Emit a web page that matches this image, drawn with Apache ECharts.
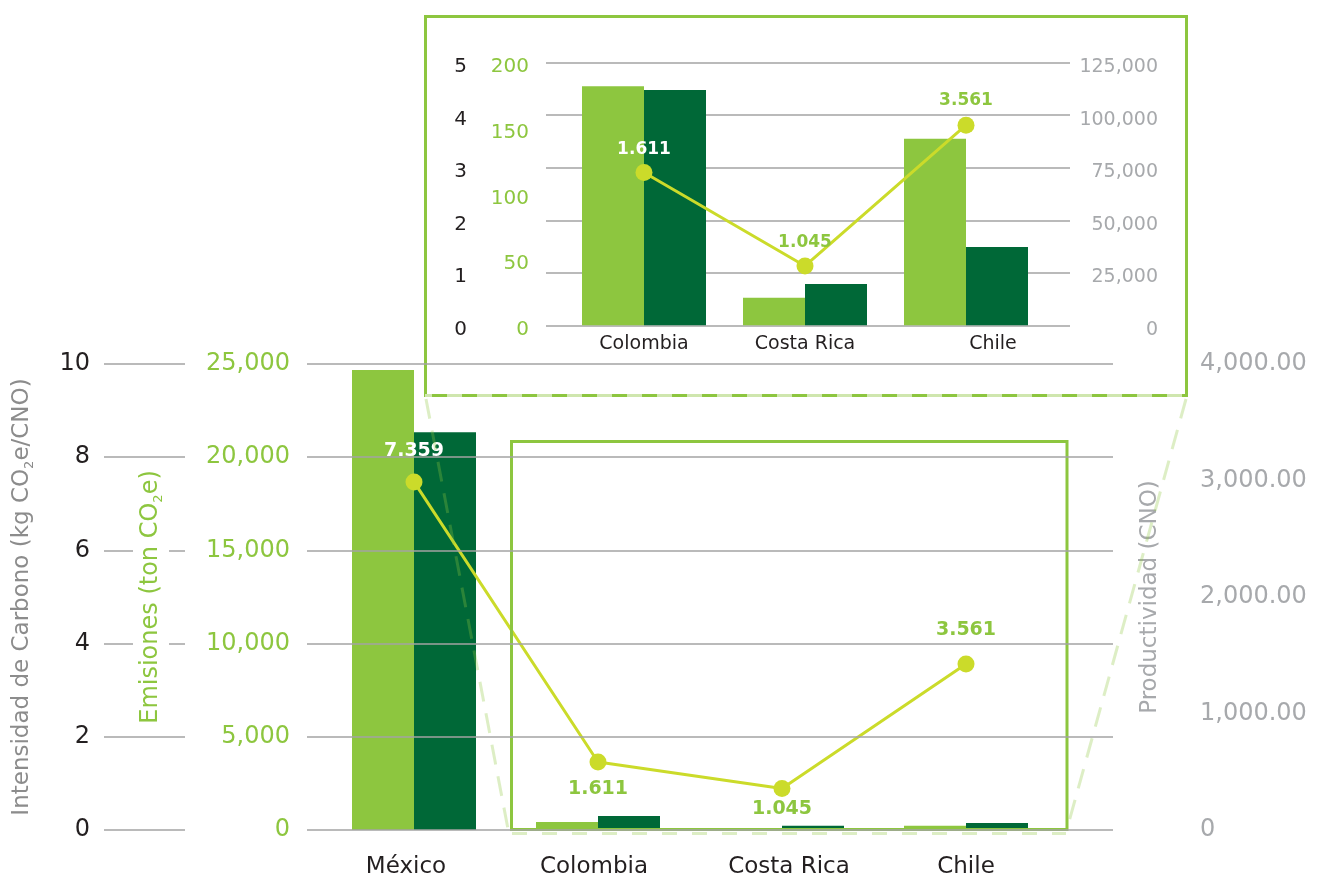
<!DOCTYPE html>
<html><head><meta charset="utf-8">
<script src="https://cdn.jsdelivr.net/npm/echarts@6/dist/echarts.min.js"></script>
<style>html,body{margin:0;padding:0;background:#fff}#c{width:1323px;height:888px}</style>
</head><body><div id="c"></div>
<script>
// ---- main chart data ----
const paises = ['México', 'Colombia', 'Costa Rica', 'Chile'];
const emisiones = [24680, 429, 10, 231];          // ton CO2e
const productividad = [3414, 120, 37, 60];        // CNO
const intensidad = [7.47, 1.46, 0.89, 3.56];      // kg CO2e/CNO (plotted)
const intensidadEtiquetas = ['7.359', '1.611', '1.045', '3.561'];

// ---- inset (zoom) data ----
const paisesZoom = ['Colombia', 'Costa Rica', 'Chile'];
const emisionesZoom = [182, 21, 142];
const productividadZoom = [112000, 19700, 37300];
const intensidadZoom = [2.91, 1.13, 3.81];
const intensidadZoomEtiquetas = ['1.611', '1.045', '3.561'];

// ---- axis ranges / ticks ----
const ejeIntensidad = {min: 0, max: 10, interval: 2};
const ejeEmisiones = {min: 0, max: 25000, interval: 5000};
const ejeProductividad = {min: 0, max: 4000, interval: 1000};
const ejeIntensidadZoom = {min: 0, max: 5, interval: 1};
const ejeEmisionesZoom = {min: 0, max: 200, interval: 50};
const ejeProductividadZoom = {min: 0, max: 125000, interval: 25000};

const FONT = 'DejaVu Sans';
const VERDE = '#8dc63f', OSCURO = '#006837', LIMA = '#cbdb2a', NEGRO = '#231f20', GRIS = '#a7a9ac';
const GRID_LINE = {show: true, lineStyle: {color: '#a3a3a3', width: 1.5}};
const fmtMiles = v => v.toLocaleString('en-US');
const fmtProd = v => v === 0 ? '0' : v.toLocaleString('en-US', {minimumFractionDigits: 2, maximumFractionDigits: 2});

function hidden(gridIndex, r) {
  return Object.assign({gridIndex, type: 'value', show: false, splitLine: {show: false}}, r);
}
function bajado(color, size) {
  return {p: {fontSize: size, color: color, fontFamily: FONT, padding: [9, 0, 0, 0]}};
}

const chart = echarts.init(document.getElementById('c'), null, {renderer: 'canvas'});

const mainLabelCfg = [
  {position: 'top', distance: 13, color: '#fff'},
  {position: 'bottom', distance: 9, color: VERDE},
  {position: 'bottom', distance: 3, color: VERDE},
  {position: 'top', distance: 16, color: VERDE}
];
const zoomLabelCfg = [
  {position: 'top', distance: 6, color: '#fff'},
  {position: 'top', distance: 6, color: VERDE},
  {position: 'top', distance: 8, color: VERDE}
];

const option = {
  backgroundColor: '#fff',
  animation: false,
  textStyle: {fontFamily: FONT},
  grid: [
    {left: 104, width: 81, top: 364, height: 466, outerBoundsMode: 'none'},      // 0 main left gridlines
    {left: 307, width: 806, top: 364, height: 466, outerBoundsMode: 'none'},     // 1 main right gridlines
    {left: 322, width: 736, top: 364, height: 466, outerBoundsMode: 'none'},     // 2 main data
    {left: 546, width: 524, top: 62.7, height: 262.6, outerBoundsMode: 'none'},  // 3 inset gridlines
    {left: 563.5, width: 483, top: 62.7, height: 262.6, outerBoundsMode: 'none'} // 4 inset data
  ],
  xAxis: [
    hidden(0, {min: 0, max: 1}),
    hidden(1, {min: 0, max: 1}),
    {gridIndex: 2, type: 'category', data: paises,
      axisLine: {show: false}, axisTick: {show: false}, splitLine: {show: false},
      axisLabel: {interval: 0, hideOverlap: false, margin: 26, fontSize: 23, color: NEGRO, fontFamily: FONT,
        formatter: v => v === 'México' ? '{a|México}' : v === 'Costa Rica' ? '{b|Costa Rica}' : v === 'Colombia' ? '{c|Colombia}' : v,
        rich: {
          a: {fontSize: 23, color: NEGRO, fontFamily: FONT, padding: [0, 16, 0, 0]},
          b: {fontSize: 23, color: NEGRO, fontFamily: FONT, padding: [0, 0, 0, 14]},
          c: {fontSize: 23, color: NEGRO, fontFamily: FONT, padding: [0, 8, 0, 0]}
        }}},
    hidden(3, {min: 0, max: 1, z: 3}),
    {gridIndex: 4, type: 'category', data: paisesZoom, z: 3,
      axisLine: {show: false}, axisTick: {show: false}, splitLine: {show: false},
      axisLabel: {interval: 0, hideOverlap: false, margin: 9, fontSize: 19, color: NEGRO, fontFamily: FONT,
        formatter: v => v === 'Chile' ? '{d|Chile}' : v,
        rich: {d: {fontSize: 19, color: NEGRO, fontFamily: FONT, padding: [0, 0, 0, 54]}}}}
  ],
  yAxis: [
    // 0 main intensity (visible)
    Object.assign({gridIndex: 0, type: 'value', position: 'left',
      axisLine: {show: false}, axisTick: {show: false}, splitLine: GRID_LINE,
      axisLabel: {margin: 14, fontSize: 24, color: NEGRO, fontFamily: FONT},
      name: '{n|Intensidad de Carbono (kg CO}{s|2}{n|e/CNO)}', nameLocation: 'middle', nameGap: 68, nameRotate: 90,
      nameMoveOverlap: false,
      nameTextStyle: {rich: {
        n: {fontSize: 23, color: '#8c8c8c', fontFamily: FONT, lineHeight: 28, verticalAlign: 'middle'},
        s: {fontSize: 13, color: '#8c8c8c', fontFamily: FONT, lineHeight: 28, verticalAlign: 'bottom'}}}
    }, ejeIntensidad),
    // 1 main emissions (visible)
    Object.assign({gridIndex: 1, type: 'value', position: 'left', z: 5,
      axisLine: {show: false}, axisTick: {show: false}, splitLine: GRID_LINE,
      axisLabel: {margin: 17, fontSize: 24, color: VERDE, fontFamily: FONT, formatter: fmtMiles},
      name: '{n|Emisiones (ton CO}{s|2}{n|e)}', nameLocation: 'middle', nameGap: 138, nameRotate: 90,
      nameMoveOverlap: false,
      nameTextStyle: {backgroundColor: '#fff', padding: [4, 6], rich: {
        n: {fontSize: 24, color: VERDE, fontFamily: FONT, lineHeight: 28, verticalAlign: 'middle'},
        s: {fontSize: 13, color: VERDE, fontFamily: FONT, lineHeight: 28, verticalAlign: 'bottom'}}}
    }, ejeEmisiones),
    // 2 main productivity (visible, right)
    Object.assign({gridIndex: 1, type: 'value', position: 'right',
      axisLine: {show: false}, axisTick: {show: false}, splitLine: {show: false},
      axisLabel: {margin: 87, fontSize: 24, color: GRIS, fontFamily: FONT, formatter: fmtProd},
      name: 'Productividad (CNO)', nameLocation: 'middle', nameGap: 26, nameRotate: 90,
      nameMoveOverlap: false,
      nameTextStyle: {fontSize: 23, color: GRIS, fontFamily: FONT}
    }, ejeProductividad),
    hidden(2, ejeEmisiones),        // 3
    hidden(2, ejeProductividad),    // 4
    hidden(2, ejeIntensidad),       // 5
    // 6 inset intensity
    Object.assign({gridIndex: 3, type: 'value', position: 'left', z: 3,
      axisLine: {show: false}, axisTick: {show: false}, splitLine: GRID_LINE,
      axisLabel: {margin: 79, fontSize: 20, color: NEGRO, fontFamily: FONT,
        formatter: v => '{p|' + v + '}', rich: bajado(NEGRO, 20)}
    }, ejeIntensidadZoom),
    // 7 inset emissions
    Object.assign({gridIndex: 3, type: 'value', position: 'left', z: 3,
      axisLine: {show: false}, axisTick: {show: false}, splitLine: {show: false},
      axisLabel: {margin: 17, fontSize: 20, color: VERDE, fontFamily: FONT,
        formatter: v => '{p|' + v + '}', rich: bajado(VERDE, 20)}
    }, ejeEmisionesZoom),
    // 8 inset productivity
    Object.assign({gridIndex: 3, type: 'value', position: 'right', z: 3,
      axisLine: {show: false}, axisTick: {show: false}, splitLine: {show: false},
      axisLabel: {margin: 88, align: 'right', fontSize: 19, color: GRIS, fontFamily: FONT,
        formatter: v => '{p|' + fmtMiles(v) + '}', rich: bajado(GRIS, 19)}
    }, ejeProductividadZoom),
    hidden(4, ejeEmisionesZoom),     // 9
    hidden(4, ejeProductividadZoom), // 10
    hidden(4, ejeIntensidadZoom)     // 11
  ],
  series: [
    {type: 'bar', name: 'Emisiones', xAxisIndex: 2, yAxisIndex: 3, data: emisiones,
      barWidth: 62, barGap: '0%', itemStyle: {color: VERDE}, z: 2},
    {type: 'bar', name: 'Productividad', xAxisIndex: 2, yAxisIndex: 4, data: productividad,
      barWidth: 62, barGap: '0%', itemStyle: {color: OSCURO}, z: 2},
    {type: 'line', name: 'Intensidad', xAxisIndex: 2, yAxisIndex: 5, z: 2,
      data: intensidad.map((v, i) => ({value: v, label: mainLabelCfg[i]})),
      symbol: 'circle', symbolSize: 17, lineStyle: {color: LIMA, width: 3}, itemStyle: {color: LIMA},
      label: {show: true, fontSize: 19, fontWeight: 'bold', fontFamily: FONT,
        formatter: p => intensidadEtiquetas[p.dataIndex]}},
    {type: 'bar', name: 'Emisiones zoom', xAxisIndex: 4, yAxisIndex: 9, data: emisionesZoom,
      barWidth: 62, barGap: '0%', itemStyle: {color: VERDE}, z: 4},
    {type: 'bar', name: 'Productividad zoom', xAxisIndex: 4, yAxisIndex: 10, data: productividadZoom,
      barWidth: 62, barGap: '0%', itemStyle: {color: OSCURO}, z: 4},
    {type: 'line', name: 'Intensidad zoom', xAxisIndex: 4, yAxisIndex: 11, z: 5,
      data: intensidadZoom.map((v, i) => ({value: v, label: zoomLabelCfg[i]})),
      symbol: 'circle', symbolSize: 17, lineStyle: {color: LIMA, width: 3}, itemStyle: {color: LIMA},
      label: {show: true, fontSize: 17, fontWeight: 'bold', fontFamily: FONT,
        formatter: p => intensidadZoomEtiquetas[p.dataIndex]}}
  ],
  graphic: [
    {type: 'rect', z: 1, shape: {x: 425.5, y: 16.5, width: 761, height: 379},
      style: {fill: '#fff', stroke: VERDE, lineWidth: 3}},
    {type: 'line', z: 2, shape: {x1: 425, y1: 395.5, x2: 1187, y2: 395.5},
      style: {stroke: '#cfe6ae', lineWidth: 3}},
    {type: 'line', z: 2, shape: {x1: 432, y1: 395.5, x2: 1187, y2: 395.5},
      style: {stroke: VERDE, lineWidth: 3, lineDash: [15, 15]}},
    {type: 'line', z: 3, shape: {x1: 426, y1: 399, x2: 508, y2: 829},
      style: {stroke: 'rgba(141,198,63,0.3)', lineWidth: 3, lineDash: [20, 12]}},
    {type: 'line', z: 3, shape: {x1: 1186, y1: 399, x2: 1067, y2: 829},
      style: {stroke: 'rgba(141,198,63,0.3)', lineWidth: 3, lineDash: [20, 12]}},
    {type: 'line', z: 3, shape: {x1: 512, y1: 833.5, x2: 1066, y2: 833.5},
      style: {stroke: 'rgba(141,198,63,0.3)', lineWidth: 3, lineDash: [15, 15]}},
    {type: 'rect', z: 3, shape: {x: 511.5, y: 441.5, width: 555.5, height: 388},
      style: {fill: 'none', stroke: VERDE, lineWidth: 3}}
  ]
};
chart.setOption(option);
</script></body></html>
